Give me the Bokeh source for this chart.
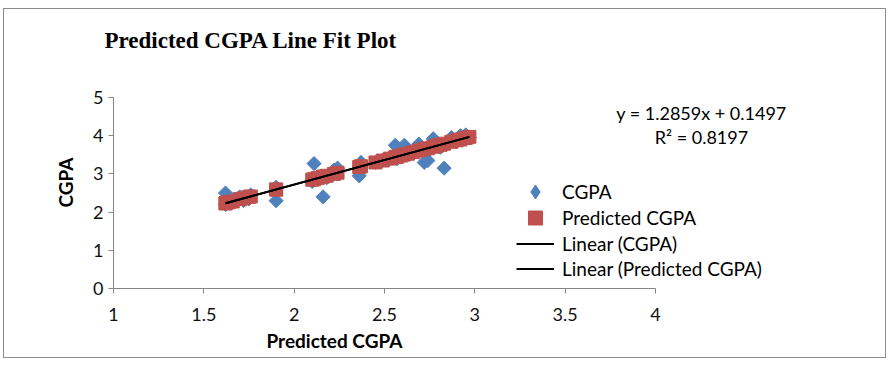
import math
from bokeh.plotting import figure
from bokeh.models import Label, Legend, LegendItem, FixedTicker, Range1d, ColumnDataSource, LinearAxis
from bokeh.embed import file_html
from bokeh.resources import INLINE

# ---- data ----
predicted_x = [1.62, 1.62, 1.63, 1.64, 1.66, 1.70, 1.72, 1.75, 1.76, 1.90, 1.90,
               2.10, 2.11, 2.13, 2.16, 2.18, 2.22, 2.24, 2.36, 2.37, 2.45, 2.49, 2.53,
               2.56, 2.57, 2.59, 2.61, 2.63, 2.66, 2.69, 2.72, 2.74, 2.77, 2.79, 2.81,
               2.83, 2.87, 2.90, 2.92, 2.95, 2.97]
cgpa = [2.50, 2.20, 2.30, 2.25, 2.30, 2.40, 2.30, 2.35, 2.45, 2.30, 2.65,
        2.80, 3.27, 2.90, 2.40, 2.90, 3.10, 3.15, 2.95, 3.30, 3.30, 3.35, 3.40,
        3.75, 3.40, 3.45, 3.75, 3.50, 3.60, 3.78, 3.30, 3.35, 3.92, 3.75, 3.70,
        3.15, 3.95, 3.85, 4.00, 4.02, 3.95]
predicted_cgpa = [2.23, 2.23, 2.25, 2.26, 2.28, 2.34, 2.36, 2.40, 2.41, 2.59, 2.59,
                  2.85, 2.86, 2.89, 2.93, 2.95, 3.00, 3.03, 3.18, 3.20, 3.30, 3.35, 3.40,
                  3.44, 3.45, 3.48, 3.51, 3.53, 3.57, 3.61, 3.65, 3.67, 3.71, 3.74, 3.76,
                  3.79, 3.84, 3.88, 3.90, 3.94, 3.97]
trend_slope = 1.2859
trend_intercept = 0.1497
r_squared = 0.8197

x_ticks = [1, 1.5, 2, 2.5, 3, 3.5, 4]
x_tick_labels = ["1", "1.5", "2", "2.5", "3", "3.5", "4"]
y_ticks = [0, 1, 2, 3, 4, 5]

title_text = "Predicted CGPA Line Fit  Plot"
x_label = "Predicted CGPA"
y_label = "CGPA"
legend_labels = ["CGPA", "Predicted CGPA", "Linear (CGPA)", "Linear (Predicted CGPA)"]

BLUE = "#4F81BD"
RED = "#C0504D"
AXIS = "#868686"
FONT = "Lato"

W, H = 883, 350
PX_X = 542 / 3.0      # pixels per x unit
PX_Y = 191 / 5.0      # pixels per y unit
LEFT, TOP = 109, 88   # where x=1 and y=5 fall inside the canvas
xr = Range1d(1 - LEFT / PX_X, 1 - LEFT / PX_X + W / PX_X)
yr = Range1d(5 - (H - TOP) / PX_Y, 5 + TOP / PX_Y)

p = figure(width=W, height=H, output_backend="svg", toolbar_location=None,
           x_range=xr, y_range=yr, x_axis_location=None, y_axis_location=None,
           min_border=0, margin=(8, 0, 0, 3))
p.styles = {"border": "1px solid #8c8c8c", "box-sizing": "border-box"}
p.outline_line_color = None
p.background_fill_color = "white"
p.border_fill_color = "white"
p.grid.grid_line_color = None
p.grid.visible = False

xaxis = LinearAxis(fixed_location=0, bounds=(1, 4), ticker=FixedTicker(ticks=x_ticks))
yaxis = LinearAxis(fixed_location=1, bounds=(0, 5), ticker=FixedTicker(ticks=y_ticks))
xaxis.major_label_overrides = dict(zip(x_ticks, x_tick_labels))
for ax in (xaxis, yaxis):
    ax.axis_line_color = AXIS
    ax.major_tick_line_color = AXIS
    ax.major_tick_in = 0
    ax.major_tick_out = 5
    ax.minor_tick_line_color = None
    ax.major_label_text_font = FONT
    ax.major_label_text_font_size = "18px"
    ax.major_label_text_color = "#111111"
xaxis.major_label_standoff = 14
yaxis.major_label_standoff = 5
p.add_layout(xaxis, "below")
p.add_layout(yaxis, "left")

src = ColumnDataSource(dict(x=predicted_x, y=cgpa, yp=predicted_cgpa))
r_blue = p.scatter("x", "y", source=src, marker="square", angle=math.pi / 4, size=10,
                   fill_color=BLUE, line_color=BLUE)
r_red = p.scatter("x", "yp", source=src, marker="square", size=13,
                  fill_color=RED, line_color=RED)
# legend swatch for the diamond series (a single undefined point, never drawn)
r_blue_key = p.scatter(x=[float("nan")], y=[float("nan")], marker="diamond",
                       fill_color=BLUE, line_color=BLUE)

x0, x1 = min(predicted_x), max(predicted_x)
tx = [x0, x1]
ty = [trend_slope * v + trend_intercept for v in tx]
r_l1 = p.line(tx, ty, line_color="black", line_width=2)
r_l2 = p.line(tx, ty, line_color="black", line_width=2)

# title
p.add_layout(Label(x=0.95, y=6.5, text=title_text, text_font="Liberation Serif",
                   text_font_style="bold", text_font_size="23px", text_baseline="middle",
                   text_align="left", text_color="black"))
# axis labels
p.add_layout(Label(x=2.223, y=-1.35, text=x_label, text_font=FONT, text_font_style="bold",
                   text_font_size="19px", text_align="center", text_baseline="middle",
                   text_color="black"))
p.add_layout(Label(x=0.734, y=2.775, text=y_label, text_font=FONT, text_font_style="bold",
                   text_font_size="19px", text_align="center", text_baseline="middle",
                   angle=math.pi / 2, text_color="black"))
# trendline equation
p.add_layout(Label(x=4.2545, y=4.6, text=f"y = {trend_slope}x + {trend_intercept}",
                   text_font=FONT, text_font_size="18px", text_align="center",
                   text_baseline="middle", text_color="black"))
p.add_layout(Label(x=4.2545, y=3.97, text=f"R² = {r_squared}",
                   text_font=FONT, text_font_size="18px", text_align="center",
                   text_baseline="middle", text_color="black"))

# one legend per entry so that the swatches can be large while rows stay 26px apart
legend_renderers = [r_blue_key, r_red, r_l1, r_l2]
legend_bottoms = [150, 124, 98, 73]
for lab, rend, bottom in zip(legend_labels, legend_renderers, legend_bottoms):
    lg = Legend(items=[LegendItem(label=lab, renderers=[rend])], location=(512, bottom))
    lg.padding = 0
    lg.margin = 0
    lg.spacing = 0
    lg.glyph_width = 38
    lg.glyph_height = 35
    lg.label_height = 20
    lg.label_standoff = 8
    lg.label_text_font = FONT
    lg.label_text_font_size = "19px"
    lg.label_text_color = "black"
    lg.background_fill_alpha = 0
    lg.border_line_color = None
    p.add_layout(lg, "center")

open("out.html", "w").write(file_html(p, INLINE))
